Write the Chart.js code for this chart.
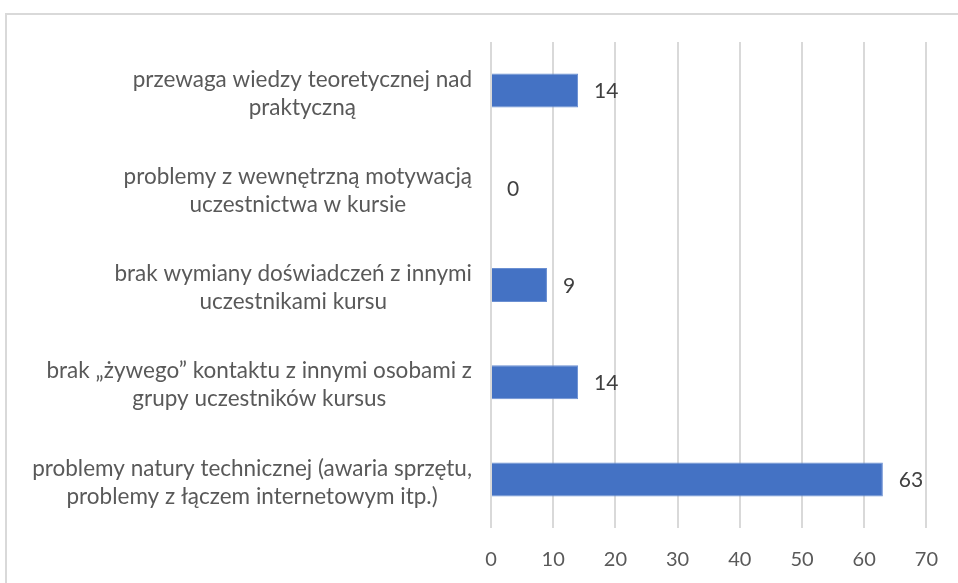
<!DOCTYPE html>
<html>
<head>
<meta charset="utf-8">
<script src="https://cdn.jsdelivr.net/npm/chart.js@4"></script>
<style>
    html, body { margin: 0; padding: 0; background: #fff; }
    #wrap { position: relative; width: 958px; height: 583px; overflow: hidden; }
    #frame {
        position: absolute; left: 5px; top: 13px; width: 1000px; height: 600px;
        border-left: 2px solid #d9d9d9; border-top: 2px solid #d9d9d9;
    }
    canvas { position: absolute; left: 0; top: 0; }
</style>
</head>
<body>
<div id="wrap">
    <div id="frame"></div>
    <canvas id="chart" width="958" height="583"></canvas>
</div>
<script>
const categories = [
    ['przewaga wiedzy teoretycznej nad', 'praktyczną'],
    ['problemy z wewnętrzną motywacją', 'uczestnictwa w kursie'],
    ['brak wymiany doświadczeń z innymi', 'uczestnikami kursu'],
    ['brak „żywego” kontaktu z innymi osobami z', 'grupy uczestników kursus'],
    ['problemy natury technicznej (awaria sprzętu,', 'problemy z łączem internetowym itp.)']
];
const values = [14, 0, 9, 14, 63];
const xTicks = [0, 10, 20, 30, 40, 50, 60, 70];

const FONT = 'Lato, Carlito, Calibri, sans-serif';
const TEXT = '#595959';

// category labels: block right-aligned to the axis, lines centred inside the block
const catLabels = {
    id: 'catLabels',
    afterDraw(chart) {
        const ctx = chart.ctx;
        const y = chart.scales.y;
        const right = chart.chartArea.left - 19;
        ctx.save();
        ctx.font = '22.5px ' + FONT;
        ctx.fillStyle = TEXT;
        ctx.textAlign = 'center';
        ctx.textBaseline = 'middle';
        categories.forEach((lines, i) => {
            const w = Math.max(...lines.map(l => ctx.measureText(l).width));
            const cx = right - w / 2;
            const cy = y.getPixelForValue(i) + 3;
            const lh = 28;
            lines.forEach((l, j) => {
                ctx.fillText(l, cx, cy + (j - (lines.length - 1) / 2) * lh);
            });
        });
        ctx.restore();
    }
};

const valueLabels = {
    id: 'valueLabels',
    afterDatasetsDraw(chart) {
        const ctx = chart.ctx;
        const meta = chart.getDatasetMeta(0);
        ctx.save();
        ctx.font = '21px ' + FONT;
        ctx.fillStyle = '#404040';
        ctx.textAlign = 'left';
        ctx.textBaseline = 'middle';
        meta.data.forEach((bar, i) => {
            ctx.fillText(String(values[i]), bar.x + 16, bar.y + 1);
        });
        ctx.restore();
    }
};

new Chart(document.getElementById('chart'), {
    type: 'bar',
    data: {
        labels: categories,
        datasets: [{
            data: values,
            backgroundColor: '#4472c4',
            borderColor: '#6a8fd2',
            borderWidth: 1,
            categoryPercentage: 1,
            barPercentage: 0.35
        }]
    },
    options: {
        indexAxis: 'y',
        responsive: false,
        animation: false,
        layout: { padding: { top: 42, right: 28, left: 0, bottom: 0 } },
        plugins: { legend: { display: false }, tooltip: { enabled: false } },
        scales: {
            x: {
                min: 0,
                max: 70,
                afterBuildTicks: scale => { scale.ticks = xTicks.map(v => ({ value: v })); },
                afterFit: scale => { scale.height = 55; },
                grid: { color: '#d9d9d9', lineWidth: 2, drawTicks: false },
                border: { display: false },
                ticks: { color: TEXT, font: { family: FONT, size: 20 }, padding: 20 }
            },
            y: {
                afterFit: scale => { scale.width = 491; },
                grid: { display: false },
                border: { display: false },
                ticks: { display: false }
            }
        }
    },
    plugins: [catLabels, valueLabels]
});
</script>
</body>
</html>
